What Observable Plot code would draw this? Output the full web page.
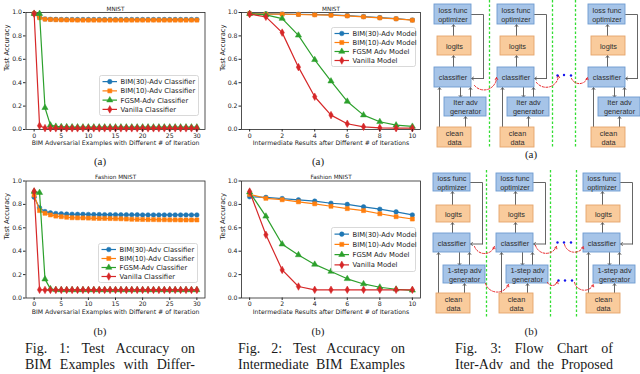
<!DOCTYPE html>
<html><head><meta charset="utf-8">
<script src="https://cdn.jsdelivr.net/npm/d3@7"></script>
<script src="https://cdn.jsdelivr.net/npm/@observablehq/plot@0.6"></script>
<style>
html,body{margin:0;padding:0;background:#fff}
#root{position:relative;width:640px;height:374px;overflow:hidden;background:#fff}
#root > *{position:absolute}
.cap{font-family:"Liberation Serif","Times New Roman",serif;font-size:14px;line-height:16px;color:#1a1a1a}
.cap div{text-align:justify;text-align-last:justify;height:16px}
.sub{font-family:"Liberation Serif","Times New Roman",serif;font-size:11px;color:#1a1a1a;transform:translate(-50%,-50%);white-space:nowrap}
</style></head>
<body><div id="root"></div>
<script>
// ---------------- data ----------------
const series = ["BIM(30)-Adv", "BIM(10)-Adv", "FGSM-Adv", "Vanilla"];
const colors = ["#1f77b4", "#ff7f0e", "#2ca02c", "#d62728"];
const symbols = ["circle", "square", "triangle", "diamond"];
const fig1Legend = ["BIM(30)-Adv Classifier", "BIM(10)-Adv Classifier", "FGSM-Adv Classifier", "Vanilla Classifier"];
const fig2Legend = ["BIM(30)-Adv Model", "BIM(10)-Adv Model", "FGSM Adv Model", "Vanilla Model"];
const iter30 = [0,1,2,3,4,5,6,7,8,9,10,11,12,13,14,15,16,17,18,19,20,21,22,23,24,25,26,27,28,29,30];
const iter10 = [0,1,2,3,4,5,6,7,8,9,10];
const ticks30 = [0,5,10,15,20,25,30];
const ticks10 = [0,2,4,6,8,10];
const yTicks = [0,0.2,0.4,0.6,0.8,1.0];
const titles = ["MNIST", "Fashion MNIST"];
const xLabel1 = "BIM Adversarial Examples with Different # of Iteration";
const xLabel2 = "Intermediate Results after Different # of Iterations";
const yLabel = "Test Accuracy";

// Fig 1(a) MNIST
const f1a_bim30 = [0.99,0.96,0.945,0.942,0.941,0.94,0.94,0.94,0.94,0.94,
  0.94,0.94,0.94,0.94,0.94,0.94,0.94,0.94,0.94,0.94,
  0.94,0.94,0.94,0.94,0.94,0.94,0.94,0.94,0.94,0.94,0.94];
const f1a_bim10 = [0.99,0.955,0.943,0.94,0.938,0.937,0.936,0.936,0.935,0.935,
  0.935,0.935,0.935,0.935,0.935,0.935,0.935,0.935,0.935,0.935,
  0.935,0.935,0.935,0.935,0.935,0.935,0.935,0.935,0.935,0.935,0.935];
const f1a_fgsm = [0.99,0.99,0.186,0.037,0.026,0.023,0.022,0.021,0.021,0.02,
  0.02,0.02,0.02,0.02,0.02,0.02,0.02,0.02,0.02,0.02,
  0.02,0.02,0.02,0.02,0.02,0.02,0.02,0.02,0.02,0.02,0.02];
const f1a_van = [0.99,0.032,0.012,0.011,0.01,0.01,0.01,0.01,0.01,0.01,
  0.01,0.01,0.01,0.01,0.01,0.01,0.01,0.01,0.01,0.01,
  0.01,0.01,0.01,0.01,0.01,0.01,0.01,0.01,0.01,0.01,0.01];
// Fig 1(b) Fashion MNIST
const f1b_bim30 = [0.862,0.77,0.739,0.728,0.722,0.72,0.717,0.716,0.715,0.715,
  0.714,0.713,0.713,0.712,0.712,0.712,0.711,0.711,0.711,0.711,
  0.71,0.71,0.71,0.71,0.71,0.71,0.71,0.71,0.71,0.71,0.71];
const f1b_bim10 = [0.88,0.747,0.724,0.71,0.70,0.695,0.69,0.686,0.685,0.684,
  0.683,0.681,0.68,0.68,0.679,0.678,0.677,0.675,0.673,0.672,
  0.671,0.67,0.67,0.669,0.669,0.668,0.668,0.667,0.667,0.667,0.667];
const f1b_fgsm = [0.91,0.90,0.161,0.078,0.07,0.069,0.069,0.069,0.069,0.069,
  0.069,0.069,0.069,0.069,0.069,0.069,0.069,0.069,0.069,0.069,
  0.069,0.069,0.069,0.069,0.069,0.069,0.069,0.069,0.069,0.069,0.069];
const f1b_van = [0.911,0.07,0.069,0.069,0.069,0.069,0.069,0.069,0.069,0.069,
  0.069,0.069,0.069,0.069,0.069,0.069,0.069,0.069,0.069,0.069,
  0.069,0.069,0.069,0.069,0.069,0.069,0.069,0.069,0.069,0.069,0.069];
// Fig 2(a) MNIST
const f2a_bim30 = [0.99,0.988,0.987,0.985,0.983,0.979,0.973,0.965,0.956,0.947,0.936];
const f2a_bim10 = [0.989,0.986,0.986,0.983,0.98,0.977,0.971,0.963,0.954,0.946,0.934];
const f2a_fgsm = [0.99,0.98,0.948,0.805,0.596,0.413,0.24,0.123,0.066,0.037,0.026];
const f2a_van = [0.986,0.963,0.828,0.533,0.28,0.123,0.049,0.023,0.014,0.011,0.011];
// Fig 2(b) Fashion MNIST
const f2b_bim30 = [0.865,0.86,0.85,0.839,0.828,0.81,0.80,0.779,0.759,0.736,0.71];
const f2b_bim10 = [0.885,0.852,0.84,0.822,0.805,0.784,0.764,0.747,0.72,0.695,0.675];
const f2b_fgsm = [0.905,0.698,0.46,0.368,0.287,0.227,0.164,0.12,0.092,0.075,0.066];
const f2b_van = [0.91,0.54,0.24,0.098,0.07,0.07,0.07,0.07,0.07,0.07,0.07];

// flow chart labels
const boxLabels = {loss: "loss func\noptimizer", logits: "logits", clf: "classifier", clean: "clean\ndata"};
const genLabels = ["Iter adv\ngenerator", "1-step adv\ngenerator"];

// captions
const captions = [
  ["Fig. 1: Test Accuracy on", "BIM Examples with Differ-"],
  ["Fig. 2: Test Accuracy on", "Intermediate BIM Examples"],
  ["Fig. 3: Flow Chart of", "Iter-Adv and the Proposed"]
];

// ---------------- drawing ----------------
const root = document.getElementById("root");
const FONT = "DejaVu Sans";

function rowsOf(xs, valsList) {
  const rows = [];
  valsList.forEach((vals, si) => vals.forEach((v, i) => rows.push({x: xs[i], y: v, s: series[si]})));
  return rows;
}

function lineChart(o) {
  const rows = rowsOf(o.xs, o.vals);
  const marks = [Plot.frame({stroke: "#262626", strokeWidth: 0.8})];
  series.forEach((s, i) => {
    const d = rows.filter(r => r.s === s);
    marks.push(Plot.line(d, {x: "x", y: "y", stroke: colors[i], strokeWidth: 1.2}));
    marks.push(Plot.dot(d, {x: "x", y: "y", fill: colors[i], stroke: colors[i], strokeWidth: 0.5, symbol: () => symbols[i], r: 2.3}));
  });
  marks.push(
    Plot.axisX({ticks: o.xTicks, tickSize: 2.5, tickPadding: 1.5, fontSize: 6.2, label: null, stroke: "#262626"}),
    Plot.axisY({ticks: yTicks, tickFormat: d => d.toFixed(1), tickSize: 2.5, tickPadding: 1.5, fontSize: 6.2, label: null, stroke: "#262626"}),
    Plot.text([o.title], {text: d => d, frameAnchor: "top", dy: -6, fontSize: 5.7, fill: "#222"}),
    Plot.text([o.xLabel], {text: d => d, frameAnchor: "bottom", dy: 15.5, fontSize: 6.2, fill: "#222"}),
    Plot.text([yLabel], {text: d => d, frameAnchor: "left", dx: -19, rotate: -90, fontSize: 6.8, fill: "#222"})
  );
  const f = o.frame;
  const svg = Plot.plot({
    width: o.width, height: o.height,
    marginLeft: f.l - o.left, marginRight: o.left + o.width - f.r,
    marginTop: f.t - o.top, marginBottom: o.top + o.height - f.b,
    style: {fontFamily: FONT, background: "none", color: "#222", overflow: "visible"},
    x: {domain: o.xDomain},
    y: {domain: [0, 1]},
    symbol: {type: "identity"},
    marks
  });
  svg.style.left = o.left + "px";
  svg.style.top = o.top + "px";
  root.appendChild(svg);
  legend(o.legendBox, o.legendLabels);
}

function legend(b, labels) {
  const svg = d3.create("svg").attr("width", b.width + 2).attr("height", b.height + 2)
    .style("left", b.left + "px").style("top", b.top + "px").style("overflow", "visible");
  svg.append("rect").attr("x", 0.5).attr("y", 0.5).attr("width", b.width).attr("height", b.height)
    .attr("rx", 2).attr("fill", "rgba(255,255,255,0.85)").attr("stroke", "#cfcfcf").attr("stroke-width", 0.8);
  const rowH = (b.height - 3) / 4;
  const symTypes = [d3.symbolCircle, d3.symbolSquare, d3.symbolTriangle, d3.symbolDiamond];
  labels.forEach((lab, i) => {
    const cy = 2 + rowH * (i + 0.5);
    svg.append("line").attr("x1", 3.5).attr("x2", 18).attr("y1", cy).attr("y2", cy)
      .attr("stroke", colors[i]).attr("stroke-width", 1.2);
    svg.append("path").attr("d", d3.symbol(symTypes[i], Math.PI * 2.3 * 2.3)())
      .attr("transform", `translate(10.8,${cy})`).attr("fill", colors[i]).attr("stroke", colors[i]).attr("stroke-width", 0.5);
    svg.append("text").attr("x", 21.5).attr("y", cy).attr("dy", "0.35em").text(lab)
      .attr("font-family", FONT).attr("font-size", 6.8).attr("fill", "#222");
  });
  root.appendChild(svg.node());
}

lineChart({xs: iter30, vals: [f1a_bim30, f1a_bim10, f1a_fgsm, f1a_van], xTicks: ticks30, xDomain: [-1.5, 31.5],
  title: titles[0], xLabel: xLabel1, legendLabels: fig1Legend,
  left: 0, top: 0, width: 210, height: 160, frame: {l: 25.5, r: 204.5, t: 12, b: 129},
  legendBox: {left: 99, top: 75, width: 99, height: 40}});
lineChart({xs: iter10, vals: [f2a_bim30, f2a_bim10, f2a_fgsm, f2a_van], xTicks: ticks10, xDomain: [-0.5, 10.5],
  title: titles[0], xLabel: xLabel2, legendLabels: fig2Legend,
  left: 210, top: 0, width: 212, height: 160, frame: {l: 241, r: 420, t: 12, b: 129},
  legendBox: {left: 331, top: 27, width: 84, height: 39}});
lineChart({xs: iter30, vals: [f1b_bim30, f1b_bim10, f1b_fgsm, f1b_van], xTicks: ticks30, xDomain: [-1.5, 31.5],
  title: titles[1], xLabel: xLabel1, legendLabels: fig1Legend,
  left: 0, top: 168, width: 210, height: 160, frame: {l: 25.5, r: 204.5, t: 180.5, b: 297.5},
  legendBox: {left: 98, top: 243, width: 99, height: 39}});
lineChart({xs: iter10, vals: [f2b_bim30, f2b_bim10, f2b_fgsm, f2b_van], xTicks: ticks10, xDomain: [-0.5, 10.5],
  title: titles[1], xLabel: xLabel2, legendLabels: fig2Legend,
  left: 210, top: 168, width: 212, height: 160, frame: {l: 241, r: 420, t: 180.5, b: 297.5},
  legendBox: {left: 331, top: 227, width: 84, height: 44}});

// ---------------- flow charts ----------------
const flowDefs = [
  {panels: [434, 497, 588], rows: {loss: [4, 24], logits: [36, 55], clf: [67, 87], gen: [97, 116], clean: [127, 147]},
   gen: genLabels[0], greens: [489, 552, 575], gy: [0, 148],
   arcs: [[474, 85, 496, 77], [536, 82, 558, 75], [571, 78, 587, 77]],
   dots: [[557, 75], [563.5, 74.5], [570.5, 75]]},
  {panels: [433, 496, 583], rows: {loss: [173, 191], logits: [205, 222], clf: [233, 252], gen: [265, 283], clean: [293, 313]},
   gen: genLabels[1], greens: [486, 550, 576], gy: [170, 318],
   arcs: [[474, 246, 494, 246], [535, 245, 556, 246], [564, 244, 583, 246],
          [485, 283, 508, 284], [547, 282, 557, 281], [574, 282, 593, 284]],
   dots: [[557, 242], [563.5, 242], [570.5, 242], [558, 280], [564.5, 280], [571.5, 280]]}
];

const boxes = [], arrows = [], polys = [], greens = [], arcs = [], dots = [];
flowDefs.forEach((fd, k) => {
  const R = fd.rows;
  fd.panels.forEach((L, p) => {
    boxes.push({x1: L, x2: L + 37, y1: R.loss[0], y2: R.loss[1], label: boxLabels.loss, kind: "b"});
    boxes.push({x1: L + 3, x2: L + 37, y1: R.logits[0], y2: R.logits[1], label: boxLabels.logits, kind: "o"});
    boxes.push({x1: L, x2: L + 37, y1: R.clf[0], y2: R.clf[1], label: boxLabels.clf, kind: "b"});
    boxes.push({x1: L + 10, x2: L + 52, y1: R.gen[0], y2: R.gen[1], label: fd.gen, kind: "b"});
    boxes.push({x1: L + 3, x2: L + 37, y1: R.clean[0], y2: R.clean[1], label: boxLabels.clean, kind: "o"});
    const lossMid = (R.loss[0] + R.loss[1]) / 2, clfMid = (R.clf[0] + R.clf[1]) / 2 + 1;
    arrows.push({x1: L + 19, y1: R.logits[0], x2: L + 19, y2: R.loss[1]});
    arrows.push({x1: L + 19, y1: R.clf[0], x2: L + 19, y2: R.logits[1]});
    arrows.push({x1: L + 49, y1: clfMid, x2: L + 37, y2: clfMid});
    arrows.push({x1: L + 5, y1: R.clean[0], x2: L + 5, y2: R.clf[1]});
    arrows.push({x1: L + 31, y1: R.clean[0], x2: L + 31, y2: R.gen[1]});
    arrows.push({x1: L + 26, y1: R.clf[1], x2: L + 26, y2: R.gen[0]});
    arrows.push({x1: L + 36, y1: R.gen[0], x2: L + 36, y2: R.clf[1]});
    const id = k + "-" + p;
    polys.push({id, x: L + 37, y: lossMid}, {id, x: L + 49, y: lossMid}, {id, x: L + 49, y: clfMid});
  });
  fd.greens.forEach(x => greens.push({x, y1: fd.gy[0], y2: fd.gy[1]}));
  fd.arcs.forEach(([x1, y1, x2, y2]) => arcs.push({x1, y1, x2, y2}));
  fd.dots.forEach(([x, y]) => dots.push({x, y}));
});

const flow = Plot.plot({
  width: 220, height: 320, margin: 0,
  x: {domain: [420, 640], range: [0, 220], axis: null},
  y: {domain: [0, 320], range: [0, 320], axis: null},
  style: {fontFamily: "Liberation Sans", background: "none", overflow: "visible"},
  marks: [
    Plot.ruleX(greens, {x: "x", y1: "y1", y2: "y2", stroke: "#33dd33", strokeWidth: 1.3, strokeDasharray: "2.5,2"}),
    Plot.line(polys, {x: "x", y: "y", z: "id", stroke: "#555", strokeWidth: 0.9}),
    Plot.arrow(arrows, {x1: "x1", y1: "y1", x2: "x2", y2: "y2", stroke: "#555", strokeWidth: 0.9, headLength: 4, headAngle: 70}),
    Plot.rect(boxes, {x1: "x1", x2: "x2", y1: "y1", y2: "y2", rx: d => d.kind === "o" ? 3 : 0,
      fill: d => d.kind === "b" ? "#a6c4e8" : "#f9cb9c", stroke: d => d.kind === "b" ? "#6e9bd0" : "#e4a56c", strokeWidth: 0.9}),
    Plot.text(boxes, {x: d => (d.x1 + d.x2) / 2, y: d => (d.y1 + d.y2) / 2, text: "label", fontSize: 7.3, lineHeight: 1.2, fill: "#2e2e2e"}),
    Plot.arrow(arcs, {x1: "x1", y1: "y1", x2: "x2", y2: "y2", bend: -70, stroke: "#e8262b", strokeWidth: 1, strokeDasharray: "2,1.6", headLength: 3.5}),
    Plot.dot(dots, {x: "x", y: "y", r: 1.2, fill: "#1515ee"})
  ]
});
flow.style.left = "420px";
flow.style.top = "0px";
root.appendChild(flow);

// ---------------- sub-labels & captions ----------------
const subs = [["(a)", 100, 161], ["(b)", 100, 331], ["(a)", 318, 161], ["(b)", 318, 331], ["(a)", 531, 154], ["(b)", 531, 331]];
subs.forEach(([t, x, y]) => {
  const d = document.createElement("div");
  d.className = "sub"; d.textContent = t;
  d.style.left = x + "px"; d.style.top = y + "px";
  root.appendChild(d);
});
const capBoxes = [[25, 170], [238, 167], [455, 158]];
captions.forEach((lines, i) => {
  const d = document.createElement("div");
  d.className = "cap";
  d.style.left = capBoxes[i][0] + "px"; d.style.top = "341px"; d.style.width = capBoxes[i][1] + "px";
  lines.forEach(l => { const e = document.createElement("div"); e.textContent = l; d.appendChild(e); });
  root.appendChild(d);
});
</script>
</body></html>
